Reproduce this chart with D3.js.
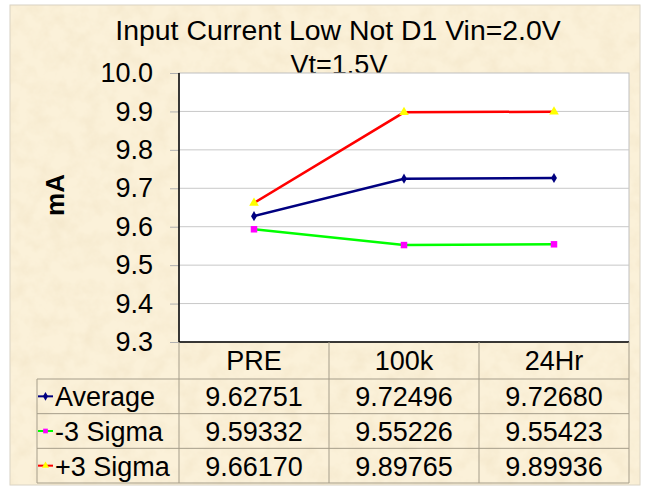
<!DOCTYPE html>
<html lang="en">
<head>
    <meta charset="UTF-8">
    <title>Input Current Low Not D1 Vin=2.0V Vt=1.5V</title>
    <script src="https://d3js.org/d3.v7.min.js"></script>
    <style>
        body { margin: 0; background: #fff; }
        text { font-family: "Liberation Sans", Arial, sans-serif; fill: #000; }
    </style>
</head>
<body>
    <script>
        // Data
        const categories = ["PRE", "100k", "24Hr"];
        const seriesNames = ["Average", "-3 Sigma", "+3 Sigma"];
        const average = [9.62751, 9.72496, 9.72680];
        const minus3Sigma = [9.59332, 9.55226, 9.55423];
        const plus3Sigma = [9.66170, 9.89765, 9.89936];
        const yTicks = [9.3, 9.4, 9.5, 9.6, 9.7, 9.8, 9.9, 10.0];

        const series = [
            { name: seriesNames[0], values: average, line: "#000080", marker: "diamond", fill: "#000080" },
            { name: seriesNames[1], values: minus3Sigma, line: "#00FF00", marker: "square", fill: "#FF00FF" },
            { name: seriesNames[2], values: plus3Sigma, line: "#FF0000", marker: "triangle", fill: "#FFFF00" }
        ];

        const width = 645, height = 487;
        const plot = { left: 179, right: 629, top: 73, bottom: 342 };
        const table = { left: 37, top: 379, bottom: 483 };

        const svg = d3.select("body").append("svg")
            .attr("width", width)
            .attr("height", height);

        // Parchment background
        const defs = svg.append("defs");
        const f = defs.append("filter").attr("id", "paper")
            .attr("x", 0).attr("y", 0).attr("width", "100%").attr("height", "100%");
        f.append("feTurbulence")
            .attr("type", "fractalNoise")
            .attr("baseFrequency", 0.06)
            .attr("numOctaves", 4)
            .attr("seed", 7);
        f.append("feColorMatrix")
            .attr("type", "matrix")
            .attr("values", "0 0 0 0 0.84  0 0 0 0 0.72  0 0 0 0 0.50  0.7 0 0 0 -0.26");

        svg.append("rect")
            .attr("x", 10).attr("y", 5)
            .attr("width", 630).attr("height", 480)
            .attr("fill", "#FBF1D9")
            .attr("stroke", "#d8d2c4");
        svg.append("rect")
            .attr("x", 10).attr("y", 5)
            .attr("width", 630).attr("height", 480)
            .attr("filter", "url(#paper)");

        // Scales
        const x = d3.scaleBand().domain(categories).range([plot.left, plot.right]);
        const y = d3.scaleLinear().domain([9.3, 10.0]).range([plot.bottom, plot.top]);
        const row = d3.scaleBand().domain(seriesNames).range([table.top, table.bottom]);

        // Title
        svg.append("text")
            .attr("x", 338).attr("y", 40)
            .attr("text-anchor", "middle")
            .attr("font-size", "28.4px")
            .text("Input Current Low Not D1 Vin=2.0V");
        svg.append("text")
            .attr("x", 339).attr("y", 74)
            .attr("text-anchor", "middle")
            .attr("font-size", "27px")
            .text("Vt=1.5V");

        // Plot area
        svg.append("rect")
            .attr("x", plot.left).attr("y", plot.top)
            .attr("width", plot.right - plot.left)
            .attr("height", plot.bottom - plot.top)
            .attr("fill", "#fff")
            .attr("stroke", "#c0c0c0");

        // Gridlines
        svg.append("g")
            .selectAll("line")
            .data(yTicks.slice(1, -1))
            .join("line")
            .attr("x1", plot.left).attr("x2", plot.right)
            .attr("y1", d => y(d)).attr("y2", d => y(d))
            .attr("stroke", "#c8c8c8");

        // Y axis
        const yAxis = svg.append("g")
            .attr("transform", `translate(${plot.left},0)`)
            .call(d3.axisLeft(y).tickValues(yTicks).tickFormat(d3.format(".1f")).tickSize(9).tickPadding(17));
        yAxis.select(".domain").remove();
        yAxis.selectAll(".tick line").attr("stroke", "#b0b0b0");
        yAxis.selectAll(".tick text")
            .attr("font-size", "27px")
            .attr("font-family", "Liberation Sans, Arial, sans-serif")
            .attr("fill", "#000");

        svg.append("line")
            .attr("x1", plot.left).attr("x2", plot.left)
            .attr("y1", plot.top).attr("y2", plot.bottom)
            .attr("stroke", "#000").attr("stroke-width", 1.5);
        svg.append("line")
            .attr("x1", plot.left).attr("x2", plot.right)
            .attr("y1", plot.bottom).attr("y2", plot.bottom)
            .attr("stroke", "#000").attr("stroke-width", 1.5);

        svg.append("text")
            .attr("transform", "translate(64,195) rotate(-90)")
            .attr("text-anchor", "middle")
            .attr("font-size", "26px")
            .attr("font-weight", "bold")
            .text("mA");

        // Marker symbols
        const symbols = {
            diamond: d3.symbol().type(d3.symbolDiamond).size(30),
            square: d3.symbol().type(d3.symbolSquare).size(42),
            triangle: d3.symbol().type(d3.symbolTriangle).size(40)
        };

        // Lines
        const line = d3.line()
            .x((d, i) => x(categories[i]) + x.bandwidth() / 2)
            .y(d => y(d));

        series.forEach(s => {
            svg.append("path")
                .datum(s.values)
                .attr("d", line)
                .attr("fill", "none")
                .attr("stroke", s.line)
                .attr("stroke-width", 2.5);
            svg.append("g")
                .selectAll("path")
                .data(s.values)
                .join("path")
                .attr("transform", (d, i) => `translate(${x(categories[i]) + x.bandwidth() / 2},${y(d)})`)
                .attr("d", symbols[s.marker])
                .attr("fill", s.fill);
        });

        // Data table
        const gridColor = "#a59d8a";
        const tg = svg.append("g");
        // vertical lines
        x.domain().concat(["end"]).forEach((c, i) => {
            const xx = i < categories.length ? x(c) : plot.right;
            tg.append("line")
                .attr("x1", xx).attr("x2", xx)
                .attr("y1", plot.bottom).attr("y2", table.bottom)
                .attr("stroke", gridColor);
        });
        tg.append("line")
            .attr("x1", table.left).attr("x2", table.left)
            .attr("y1", table.top).attr("y2", table.bottom)
            .attr("stroke", gridColor);
        // horizontal lines
        seriesNames.forEach(n => {
            tg.append("line")
                .attr("x1", table.left).attr("x2", plot.right)
                .attr("y1", row(n)).attr("y2", row(n))
                .attr("stroke", gridColor);
        });
        tg.append("line")
            .attr("x1", table.left).attr("x2", plot.right)
            .attr("y1", table.bottom).attr("y2", table.bottom)
            .attr("stroke", gridColor);

        // category headers
        tg.selectAll("text.cat")
            .data(categories)
            .join("text")
            .attr("class", "cat")
            .attr("x", d => x(d) + x.bandwidth() / 2)
            .attr("y", 370)
            .attr("text-anchor", "middle")
            .attr("font-size", "27px")
            .text(d => d);

        // values and legend keys
        series.forEach(s => {
            const cy = row(s.name) + row.bandwidth() / 2;
            tg.append("line")
                .attr("x1", table.left + 1).attr("x2", table.left + 16)
                .attr("y1", cy).attr("y2", cy)
                .attr("stroke", s.line).attr("stroke-width", 2);
            tg.append("path")
                .attr("transform", `translate(${table.left + 8.5},${cy})`)
                .attr("d", d3.symbol().type(
                    s.marker === "diamond" ? d3.symbolDiamond :
                    s.marker === "square" ? d3.symbolSquare : d3.symbolTriangle).size(22))
                .attr("fill", s.fill);
            tg.append("text")
                .attr("x", table.left + 18)
                .attr("y", cy + 10)
                .attr("font-size", "27px")
                .text(s.name);
            tg.selectAll(null)
                .data(s.values)
                .join("text")
                .attr("x", (d, i) => x(categories[i]) + x.bandwidth() / 2)
                .attr("y", cy + 10)
                .attr("text-anchor", "middle")
                .attr("font-size", "27px")
                .text(d => d.toFixed(5));
        });
    </script>
</body>
</html>
